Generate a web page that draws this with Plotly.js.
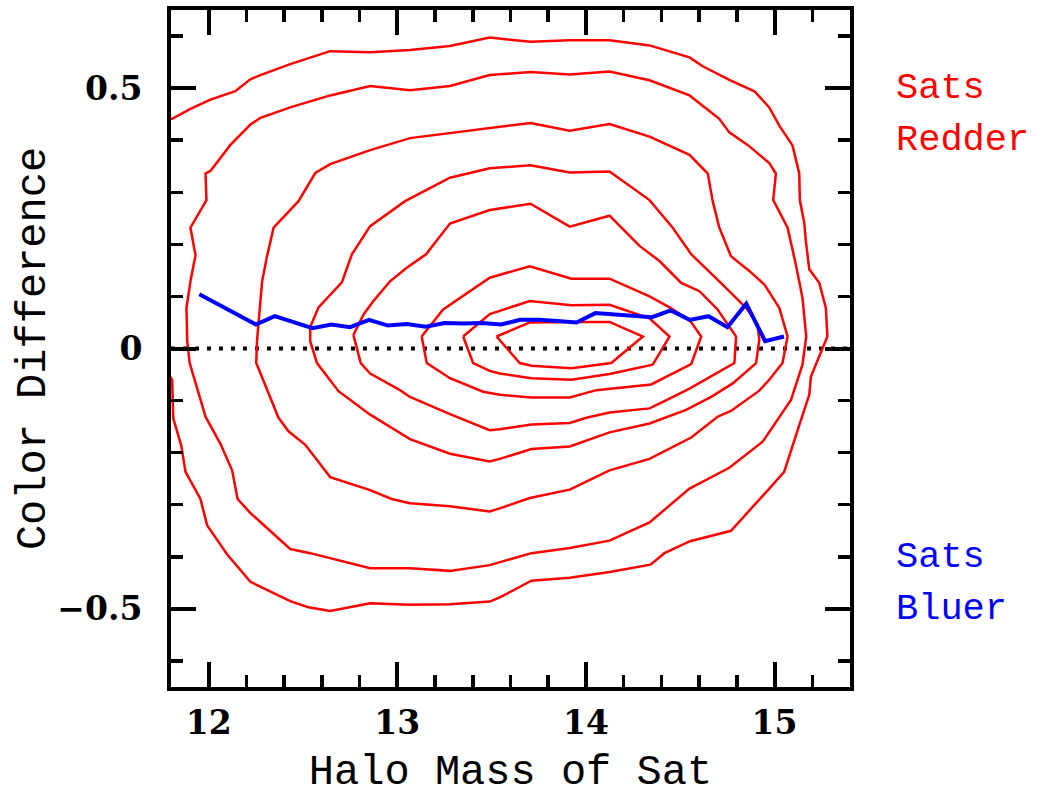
<!DOCTYPE html>
<html>
<head>
<meta charset="utf-8">
<script src="https://cdn.plot.ly/plotly-3.0.1.min.js"></script>
<style>
html,body{margin:0;padding:0;background:#fff;}
#chart{width:1044px;height:797px;}
</style>
</head>
<body>
<div id="chart"></div>
<script>
// ---- Contour levels (outermost = 1, innermost = 8) ----
const contour1X = [11.776, 11.806, 11.903, 12.009, 12.141, 12.221, 12.274, 12.432, 12.644, 12.856, 13.067, 13.279, 13.490, 13.706, 13.914, 14.125, 14.337, 14.549, 14.619, 14.760, 14.893, 14.972, 15.025, 15.095, 15.131, 15.134, 15.157, 15.166, 15.184, 15.237, 15.272, 15.280, 15.193, 15.184, 15.131, 15.051, 14.972, 14.769, 14.552, 14.416, 14.342, 14.125, 13.914, 13.711, 13.543, 13.490, 13.279, 13.067, 12.856, 12.644, 12.529, 12.432, 12.221, 12.097, 11.992, 11.956, 11.877, 11.854, 11.812, 11.806, 11.776];
const contour1Y = [0.442, 0.441, 0.460, 0.478, 0.494, 0.517, 0.525, 0.546, 0.571, 0.569, 0.573, 0.581, 0.597, 0.589, 0.592, 0.592, 0.582, 0.559, 0.542, 0.516, 0.494, 0.463, 0.428, 0.390, 0.336, 0.285, 0.242, 0.206, 0.152, 0.126, 0.078, 0.023, -0.054, -0.089, -0.147, -0.237, -0.269, -0.350, -0.370, -0.393, -0.415, -0.429, -0.440, -0.446, -0.478, -0.486, -0.491, -0.492, -0.489, -0.504, -0.497, -0.485, -0.448, -0.395, -0.340, -0.289, -0.237, -0.186, -0.134, -0.060, -0.044];

const contour2X = [11.886, 11.882, 11.903, 11.930, 11.903, 11.988, 11.983, 12.009, 12.115, 12.221, 12.274, 12.432, 12.644, 12.856, 13.067, 13.279, 13.490, 13.706, 13.914, 14.125, 14.337, 14.549, 14.707, 14.760, 14.857, 14.972, 15.007, 14.993, 15.069, 15.095, 15.113, 15.148, 15.168, 15.148, 15.087, 14.937, 14.760, 14.549, 14.337, 14.125, 13.914, 13.711, 13.543, 13.490, 13.279, 13.067, 12.856, 12.644, 12.538, 12.432, 12.221, 12.153, 12.124, 12.062, 11.983, 11.899, 11.886];
const contour2Y = [0.014, 0.078, 0.129, 0.179, 0.232, 0.285, 0.336, 0.341, 0.391, 0.430, 0.443, 0.463, 0.486, 0.504, 0.496, 0.504, 0.525, 0.531, 0.526, 0.532, 0.515, 0.486, 0.441, 0.415, 0.391, 0.356, 0.336, 0.285, 0.232, 0.193, 0.161, 0.097, 0.023, -0.031, -0.099, -0.179, -0.229, -0.269, -0.334, -0.369, -0.383, -0.393, -0.411, -0.416, -0.427, -0.422, -0.422, -0.403, -0.393, -0.385, -0.316, -0.289, -0.234, -0.183, -0.131, -0.028, 0.014];

const contour3X = [12.256, 12.283, 12.309, 12.344, 12.476, 12.565, 12.644, 12.856, 13.067, 13.279, 13.490, 13.706, 13.914, 14.125, 14.337, 14.549, 14.646, 14.672, 14.707, 14.769, 14.866, 14.946, 15.025, 15.069, 15.042, 14.972, 14.919, 14.769, 14.698, 14.558, 14.337, 14.125, 13.914, 13.702, 13.543, 13.490, 13.279, 13.067, 12.970, 12.856, 12.644, 12.512, 12.423, 12.370, 12.252, 12.256];
const contour3Y = [0.014, 0.129, 0.177, 0.232, 0.283, 0.337, 0.354, 0.381, 0.404, 0.414, 0.424, 0.433, 0.418, 0.431, 0.407, 0.372, 0.336, 0.283, 0.232, 0.177, 0.149, 0.123, 0.078, 0.023, -0.028, -0.060, -0.081, -0.120, -0.131, -0.171, -0.212, -0.234, -0.271, -0.287, -0.307, -0.313, -0.303, -0.297, -0.289, -0.272, -0.247, -0.185, -0.159, -0.133, -0.028, 0.014];

const contour4X = [12.538, 12.582, 12.706, 12.759, 12.856, 13.041, 13.279, 13.490, 13.706, 13.914, 14.125, 14.337, 14.460, 14.558, 14.707, 14.849, 14.910, 14.919, 14.902, 14.778, 14.664, 14.531, 14.337, 14.125, 13.914, 13.711, 13.543, 13.490, 13.279, 13.067, 12.856, 12.688, 12.574, 12.538, 12.538];
const contour4Y = [0.041, 0.079, 0.127, 0.181, 0.235, 0.283, 0.328, 0.346, 0.352, 0.338, 0.340, 0.285, 0.232, 0.181, 0.129, 0.078, 0.046, 0.017, -0.028, -0.067, -0.093, -0.118, -0.144, -0.161, -0.188, -0.193, -0.212, -0.217, -0.202, -0.174, -0.127, -0.082, -0.028, 0.014, 0.041];

const contour5X = [12.767, 12.820, 12.873, 12.961, 13.050, 13.152, 13.279, 13.490, 13.706, 13.914, 14.125, 14.284, 14.390, 14.505, 14.602, 14.698, 14.760, 14.796, 14.787, 14.549, 14.416, 14.337, 14.125, 14.002, 13.914, 13.711, 13.543, 13.490, 13.279, 13.067, 13.014, 12.856, 12.806, 12.767];
const contour5Y = [0.026, 0.065, 0.091, 0.129, 0.155, 0.181, 0.240, 0.266, 0.278, 0.234, 0.255, 0.197, 0.168, 0.126, 0.110, 0.075, 0.042, 0.023, -0.028, -0.077, -0.101, -0.115, -0.123, -0.133, -0.143, -0.146, -0.155, -0.157, -0.126, -0.093, -0.080, -0.048, -0.028, 0.026];

const contour6X = [13.129, 13.243, 13.490, 13.702, 13.923, 14.125, 14.337, 14.443, 14.549, 14.611, 14.558, 14.346, 14.055, 13.914, 13.711, 13.543, 13.455, 13.279, 13.156, 13.129];
const contour6Y = [0.023, 0.075, 0.136, 0.158, 0.134, 0.134, 0.100, 0.079, 0.055, 0.023, -0.030, -0.069, -0.080, -0.094, -0.094, -0.089, -0.083, -0.057, -0.028, 0.023];

const contour7X = [13.349, 13.490, 13.702, 13.923, 14.125, 14.337, 14.443, 14.354, 14.125, 13.923, 13.711, 13.543, 13.490, 13.402, 13.349];
const contour7Y = [0.023, 0.066, 0.091, 0.083, 0.084, 0.058, 0.023, -0.031, -0.049, -0.060, -0.057, -0.048, -0.043, -0.028, 0.023];

const contour8X = [13.526, 13.702, 13.923, 14.125, 14.302, 14.134, 13.923, 13.711, 13.649, 13.526];
const contour8Y = [0.023, 0.050, 0.051, 0.051, 0.023, -0.028, -0.038, -0.033, -0.028, 0.023];

// ---- Median colour difference per halo-mass bin (blue line) ----
const medianX = [11.95, 12.05, 12.15, 12.25, 12.35, 12.45, 12.55, 12.65, 12.75, 12.85, 12.95, 13.05, 13.15, 13.25, 13.35, 13.45, 13.55, 13.65, 13.75, 13.85, 13.95, 14.05, 14.15, 14.25, 14.35, 14.45, 14.55, 14.65, 14.75, 14.85, 14.95, 15.05];
const medianY = [0.104, 0.085, 0.064, 0.046, 0.062, 0.051, 0.039, 0.046, 0.041, 0.055, 0.044, 0.047, 0.042, 0.049, 0.048, 0.049, 0.046, 0.055, 0.055, 0.053, 0.050, 0.068, 0.065, 0.063, 0.060, 0.073, 0.055, 0.062, 0.041, 0.086, 0.014, 0.023];

// ---- Axis ticks and labels ----
const xTickVals = [12, 13, 14, 15];
const xTickText = ['12', '13', '14', '15'];
const yTickVals = [-0.5, 0, 0.5];
const yTickText = ['\u22120.5', '0', '0.5'];
const sideLabels = ['Sats', 'Redder', 'Sats', 'Bluer'];
const sideLabelLevels = [0.5, 0.4, -0.4, -0.5];

const contours = [
  [contour1X, contour1Y], [contour2X, contour2Y], [contour3X, contour3Y], [contour4X, contour4Y],
  [contour5X, contour5Y], [contour6X, contour6Y], [contour7X, contour7Y], [contour8X, contour8Y]
];

const traces = contours.map(function (c) {
  return {
    x: c[0], y: c[1], type: 'scatter', mode: 'lines',
    line: {color: '#ff0000', width: 2.5}, hoverinfo: 'skip'
  };
});
traces.push({
  x: medianX, y: medianY, type: 'scatter', mode: 'lines',
  line: {color: '#0000ff', width: 4}, hoverinfo: 'skip'
});

const tickFont = {family: 'DejaVu Serif', size: 33, color: '#000', weight: 'bold'};
const titleFont = {family: 'Liberation Mono', size: 42, color: '#000'};

const annotations = sideLabels.map(function (t, i) {
  return {
    text: t, xref: 'paper', yref: 'y', x: 1.065, y: sideLabelLevels[i],
    xanchor: 'left', yanchor: 'middle', showarrow: false,
    font: {family: 'Liberation Mono', size: 37, color: i < 2 ? '#ff0000' : '#0000ff'}
  };
});

const layout = {
  width: 1044, height: 797,
  margin: {l: 171, r: 194, t: 10, b: 110, pad: 0},
  paper_bgcolor: '#fff', plot_bgcolor: '#fff',
  showlegend: false,
  xaxis: {
    range: [11.8, 15.4], tickmode: 'array', tickvals: xTickVals, ticktext: xTickText,
    ticks: 'inside', ticklen: 25, tickwidth: 4, tickcolor: '#000',
    minor: {tickmode: 'linear', tick0: 12, dtick: 0.2, ticks: 'inside', ticklen: 12, tickwidth: 3.5, tickcolor: '#000', showgrid: false},
    showline: true, linewidth: 4, linecolor: '#000', mirror: 'allticks',
    showgrid: false, zeroline: false, tickfont: tickFont, ticklabelstandoff: 3,
    title: {text: 'Halo Mass of Sat', font: titleFont, standoff: 21},
    automargin: false, fixedrange: true
  },
  yaxis: {
    range: [-0.65, 0.65], tickmode: 'array', tickvals: yTickVals, ticktext: yTickText,
    ticks: 'inside', ticklen: 25, tickwidth: 4, tickcolor: '#000',
    minor: {tickmode: 'linear', tick0: 0, dtick: 0.1, ticks: 'inside', ticklen: 12, tickwidth: 3.5, tickcolor: '#000', showgrid: false},
    showline: true, linewidth: 4, linecolor: '#000', mirror: 'allticks',
    showgrid: false, zeroline: false, tickfont: tickFont, ticklabelstandoff: 18,
    title: {text: 'Color Difference', font: titleFont, standoff: 0},
    automargin: false, fixedrange: true
  },
  shapes: [{
    type: 'line', xref: 'paper', yref: 'y', x0: 0, x1: 1, y0: 0, y1: 0,
    line: {color: '#000', width: 4, dash: '4px,8px'}, layer: 'below'
  }],
  annotations: annotations
};

Plotly.newPlot('chart', traces, layout, {staticPlot: true, displayModeBar: false});
</script>
</body>
</html>
